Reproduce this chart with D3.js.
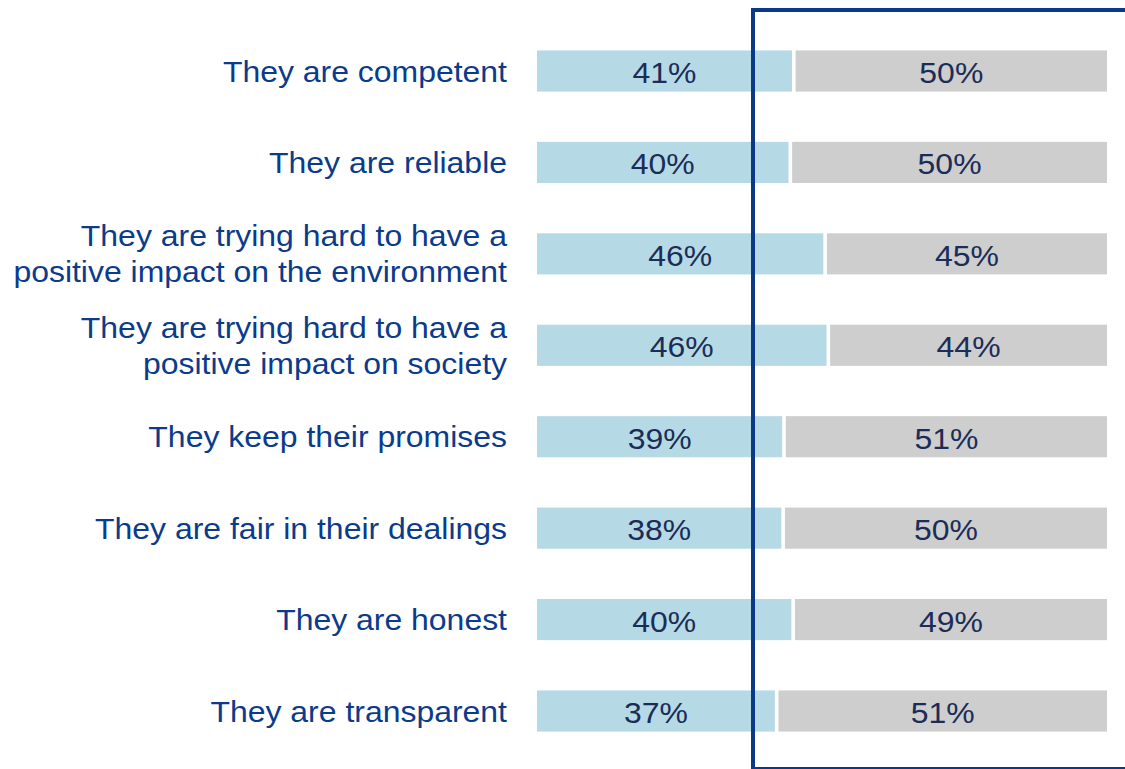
<!DOCTYPE html>
<html><head><meta charset="utf-8">
<script src="https://cdn.jsdelivr.net/npm/d3@7"></script>
<style>html,body{margin:0;padding:0;background:#fff;overflow:hidden}</style>
</head><body>
<svg id="c" width="1125" height="769"></svg>
<script>
const categories = [
  ["They are competent"],
  ["They are reliable"],
  ["They are trying hard to have a", "positive impact on the environment"],
  ["They are trying hard to have a", "positive impact on society"],
  ["They keep their promises"],
  ["They are fair in their dealings"],
  ["They are honest"],
  ["They are transparent"]
];
const agree = [41, 40, 46, 46, 39, 38, 40, 37];
const disagree = [50, 50, 45, 44, 51, 50, 49, 51];

const svg = d3.select("#c");
const font = "'Liberation Sans', Arial, sans-serif";
const sx = 1.065;
const ids = categories.map((d, i) => i);
const step = 640 / 7;
const y = d3.scaleBand().domain(ids).range([71 - step / 2, 711 + step / 2]).paddingInner(0.55).paddingOuter(0.275);
const x = d3.scaleLinear().domain([0, 1]).range([537, 1107]);
const gap = 1.8;
const frac = i => agree[i] / (agree[i] + disagree[i]);

const rows = svg.append("g").selectAll("g").data(ids).join("g");

rows.append("rect")
  .attr("x", x(0))
  .attr("y", i => y(i))
  .attr("height", y.bandwidth())
  .attr("width", i => x(frac(i)) - x(0) - gap)
  .attr("fill", "#b6dae5");

rows.append("rect")
  .attr("x", i => x(frac(i)) + gap)
  .attr("y", i => y(i))
  .attr("height", y.bandwidth())
  .attr("width", i => x(1) - x(frac(i)) - gap)
  .attr("fill", "#cecece");

rows.append("text")
  .attr("transform", i => `translate(${(x(0) + x(frac(i)) - gap) / 2},${y(i) + y.bandwidth() / 2 + 12}) scale(${sx},1)`)
  .attr("text-anchor", "middle")
  .attr("font-family", font).attr("font-size", 30).attr("fill", "#1b2d57")
  .text(i => agree[i] + "%");

rows.append("text")
  .attr("transform", i => `translate(${(x(1) + x(frac(i)) + gap) / 2},${y(i) + y.bandwidth() / 2 + 12}) scale(${sx},1)`)
  .attr("text-anchor", "middle")
  .attr("font-family", font).attr("font-size", 30).attr("fill", "#1b2d57")
  .text(i => disagree[i] + "%");

rows.each(function(i) {
  const lines = categories[i];
  const cy = y(i) + y.bandwidth() / 2;
  const t = d3.select(this).append("text")
    .attr("transform", `translate(507,${cy}) scale(${sx},1)`)
    .attr("text-anchor", "end")
    .attr("font-family", font).attr("font-size", 30).attr("fill", "#0b3b8a");
  lines.forEach((l, k) => {
    t.append("tspan").attr("x", 0)
      .attr("y", 10.5 + (k - (lines.length - 1) / 2) * 36)
      .text(l);
  });
});

svg.append("rect")
  .attr("x", 753).attr("y", 10).attr("width", 400).attr("height", 759)
  .attr("fill", "none").attr("stroke", "#0a3a87").attr("stroke-width", 4);
</script>
</body></html>
